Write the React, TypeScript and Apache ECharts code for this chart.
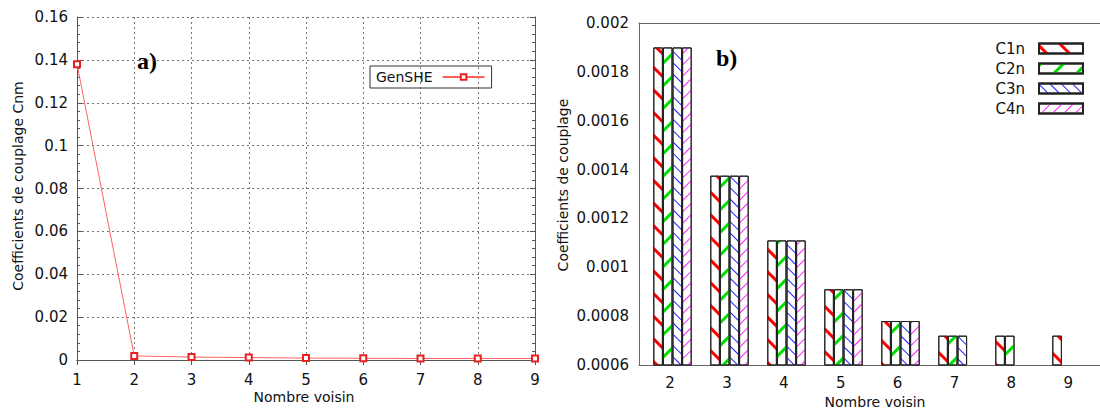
import React, { useEffect, useRef } from "react";
import * as echarts from "echarts";

// ---- data ----
const neighbourX = [1, 2, 3, 4, 5, 6, 7, 8, 9];
const genSHE = [0.138, 0.0019, 0.001375, 0.00111, 0.00091, 0.00078, 0.00072, 0.00072, 0.00072];

const barCategories = ["2", "3", "4", "5", "6", "7", "8", "9"];
const c1n = [0.0019, 0.001375, 0.00111, 0.00091, 0.00078, 0.00072, 0.00072, 0.00072];
const c2n = [0.0019, 0.001375, 0.00111, 0.00091, 0.00078, 0.00072, 0.00072, null];
const c3n = [0.0019, 0.001375, 0.00111, 0.00091, 0.00078, 0.00072, null, null];
const c4n = [0.0019, 0.001375, 0.00111, 0.00091, 0.00078, null, null, null];

const FONT = "DejaVu Sans";

function stripe(color: string, thick: number, gap: number, rot: number) {
  return {
    symbol: "rect",
    symbolSize: 1,
    color,
    dashArrayX: [1, 0],
    dashArrayY: [thick, gap],
    rotation: rot,
  };
}

export default function App() {
  const ref = useRef<HTMLDivElement>(null);
  useEffect(() => {
    document.body.style.margin = "0";
    const chart = echarts.init(ref.current!, null, { renderer: "svg" });
    const axisLineStyle = { color: "#555", width: 1 };
    const dotted = { color: "#777", width: 1, type: [2, 3] as any };
    const barBase = {
      type: "bar" as const,
      xAxisIndex: 4,
      yAxisIndex: 3,
      barWidth: 9.6,
      barGap: "0%",
    };
    const mkItem = (decal: any) => ({
      color: "#fff",
      borderColor: "#222",
      borderWidth: 1,
      decal,
    });
    const option: any = {
      animation: false,
      backgroundColor: "#fff",
      textStyle: { fontFamily: FONT },
      grid: [
        { left: 77, top: 17, width: 458, height: 343 },
        { left: 639, top: 23, width: 468, height: 342 },
        { left: 644, top: 23, width: 467, height: 342 },
        { left: 641.6, top: 23, width: 455, height: 342 },
      ],
      xAxis: [
        {
          gridIndex: 0, type: "value", min: 1, max: 9, interval: 1, position: "bottom",
          axisLine: { lineStyle: axisLineStyle },
          axisTick: { inside: true, length: 5, lineStyle: axisLineStyle },
          axisLabel: { fontSize: 15, color: "#111", margin: 12, fontFamily: FONT },
          splitLine: { show: true, lineStyle: dotted },
        },
        {
          gridIndex: 0, type: "value", min: 1, max: 9, interval: 1, position: "top",
          axisLine: { lineStyle: axisLineStyle },
          axisTick: { inside: true, length: 5, lineStyle: axisLineStyle },
          axisLabel: { show: false },
          splitLine: { show: false },
        },
        {
          gridIndex: 1, type: "category", data: barCategories, position: "top",
          axisLine: { lineStyle: { color: "#666" } },
          axisTick: { inside: true, length: 8, alignWithLabel: true, lineStyle: { color: "#666" } },
          axisLabel: { show: false },
        },
        {
          gridIndex: 1, type: "category", data: barCategories, position: "bottom",
          axisLine: { lineStyle: { color: "#666" } },
          axisTick: { show: false },
          axisLabel: { show: false },
        },
        { gridIndex: 2, type: "category", data: barCategories, show: false },
        {
          gridIndex: 3, type: "category", data: barCategories, position: "bottom",
          axisLine: { show: false },
          axisTick: { show: false },
          axisLabel: { fontSize: 15, color: "#111", margin: 10, fontFamily: FONT },
        },
      ],
      yAxis: [
        {
          gridIndex: 0, type: "value", min: 0, max: 0.16, interval: 0.02, position: "left",
          axisLine: { show: true, lineStyle: axisLineStyle },
          axisTick: { inside: true, length: 5, lineStyle: axisLineStyle },
          minorTick: { show: true, splitNumber: 5, length: 3, lineStyle: axisLineStyle },
          axisLabel: { fontSize: 15, color: "#111", margin: 9, fontFamily: FONT },
          splitLine: { show: true, lineStyle: dotted },
        },
        {
          gridIndex: 0, type: "value", min: 0, max: 0.16, interval: 0.02, position: "right",
          axisLine: { show: true, lineStyle: axisLineStyle },
          axisTick: { inside: true, length: 5, lineStyle: axisLineStyle },
          minorTick: { show: true, splitNumber: 5, length: 3, lineStyle: axisLineStyle },
          axisLabel: { show: false },
          splitLine: { show: false },
        },
        {
          gridIndex: 1, type: "value", min: 0.0006, max: 0.002, interval: 0.0002, position: "left",
          axisLine: { show: true, lineStyle: { color: "#666" } },
          axisTick: { inside: true, length: 8, lineStyle: { color: "#666" } },
          axisLabel: { fontSize: 15, color: "#111", margin: 10, fontFamily: FONT },
          splitLine: { show: false },
        },
        { gridIndex: 2, type: "value", min: 0.0006, max: 0.002, interval: 0.0002, show: false, splitLine: { show: false } },
        { gridIndex: 3, type: "value", show: false, splitLine: { show: false } },
      ],
      legend: [
        {
          data: ["GenSHE"],
          left: 370, top: 66,
          orient: "horizontal",
          align: "right",
          itemWidth: 42, itemHeight: 7,
          padding: [4, 6, 4, 6],
          borderColor: "#333", borderWidth: 1, borderRadius: 0,
          textStyle: { fontSize: 14, color: "#111", fontFamily: FONT, padding: [0, 5, 0, 0] },
        },
        {
          data: ["C1n", "C2n", "C3n", "C4n"],
          right: 11, top: 36,
          orient: "vertical",
          align: "right",
          itemWidth: 44, itemHeight: 10, itemGap: 5,
          icon: "rect",
          textStyle: { fontSize: 15, color: "#111", fontFamily: FONT, padding: [0, 9, 0, 0] },
        },
      ],
      graphic: [
        { type: "text", x: 137, y: 61, style: { text: "a)", font: "bold 24px 'Liberation Serif'", fill: "#000", verticalAlign: "middle", align: "left" } },
        { type: "text", x: 716, y: 58, style: { text: "b)", font: "bold 24px 'Liberation Serif'", fill: "#000", verticalAlign: "middle", align: "left" } },
        { type: "text", x: 18, y: 186, rotation: Math.PI / 2, style: { text: "Coefficients de couplage Cnm", font: `14px '${FONT}'`, fill: "#111", align: "center", verticalAlign: "middle" } },
        { type: "text", x: 563, y: 185, rotation: Math.PI / 2, style: { text: "Coefficients de couplage", font: `14px '${FONT}'`, fill: "#111", align: "center", verticalAlign: "middle" } },
        { type: "text", x: 304, y: 397, style: { text: "Nombre voisin", font: `14px '${FONT}'`, fill: "#111", align: "center", verticalAlign: "middle" } },
        { type: "text", x: 875, y: 402, style: { text: "Nombre voisin", font: `14px '${FONT}'`, fill: "#111", align: "center", verticalAlign: "middle" } },
      ],
      series: [
        {
          name: "GenSHE", type: "line", xAxisIndex: 0, yAxisIndex: 0,
          data: neighbourX.map((x, i) => [x, genSHE[i]]),
          symbol: "emptyRect", symbolSize: 6,
          itemStyle: { color: "#e82020" },
          lineStyle: { color: "#ff6060", width: 1 },
        },
        { ...barBase, name: "C1n", data: c1n, itemStyle: mkItem(stripe("#ff0000", 3, 13, Math.PI / 4)) },
        { ...barBase, name: "C2n", data: c2n, itemStyle: mkItem(stripe("#00e000", 3, 13, -Math.PI / 4)) },
        { ...barBase, name: "C3n", data: c3n, itemStyle: mkItem(stripe("#2020ff", 1, 7, Math.PI / 4)) },
        { ...barBase, name: "C4n", data: c4n, itemStyle: mkItem(stripe("#ff20ff", 1, 7, -Math.PI / 4)) },
      ],
    };
    chart.setOption(option);
    return () => chart.dispose();
  }, []);
  return <div ref={ref} style={{ width: 1100, height: 411 }} />;
}
